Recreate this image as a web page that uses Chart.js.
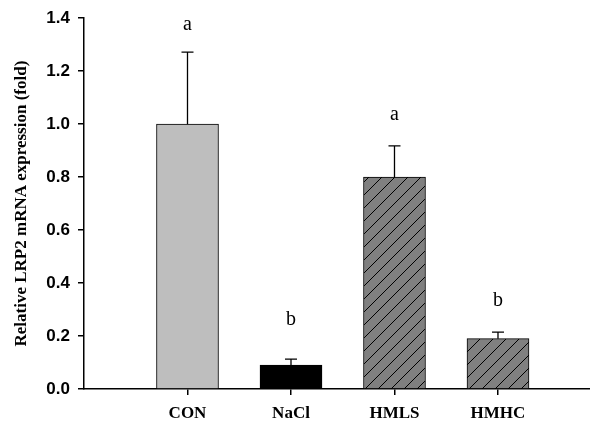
<!DOCTYPE html>
<html>
<head>
<meta charset="utf-8">
<script src="https://cdn.jsdelivr.net/npm/chart.js@4"></script>
<style>
  html, body { margin: 0; padding: 0; background: #fff; overflow: hidden; }
  #wrap { width: 590px; height: 423px; }
  canvas { display: block; }
</style>
</head>
<body>
<div id="wrap"><canvas id="lrp2Chart" width="590" height="423"></canvas></div>
<script>
const groups = ['CON', 'NaCl', 'HMLS', 'HMHC'];
const expression = [1.0, 0.09, 0.8, 0.19]; // mean fold change
const errors = [0.272, 0.023, 0.118, 0.025]; // SD, upper whisker only
const letters = ['a', 'b', 'a', 'b'];
const letterLevels = [1.377, 0.263, 1.035, 0.335]; // where the significance letters sit (y units)

// diagonal hatch used by the HM groups
function hatch() {
    const size = 13;
    const c = document.createElement('canvas');
    c.width = size; c.height = size;
    const g = c.getContext('2d');
    g.fillStyle = '#808080';
    g.fillRect(0, 0, size, size);
    g.strokeStyle = '#000';
    g.lineWidth = 1;
    g.beginPath();
    g.moveTo(-1, size + 1); g.lineTo(size + 1, -1);
    g.moveTo(-2, 2); g.lineTo(2, -2);
    g.moveTo(size - 2, size + 2); g.lineTo(size + 2, size - 2);
    g.stroke();
    return g.createPattern(c, 'repeat');
}

const errorBars = {
    id: 'errorBars',
    afterDatasetsDraw(chart) {
        const ctx = chart.ctx;
        const meta = chart.getDatasetMeta(0);
        const y = chart.scales.y;
        ctx.save();
        ctx.strokeStyle = '#000';
        ctx.lineWidth = 1.3;
        meta.data.forEach((bar, i) => {
            const top = y.getPixelForValue(expression[i] + errors[i]);
            ctx.beginPath();
            ctx.moveTo(bar.x, bar.y);
            ctx.lineTo(bar.x, top);
            ctx.moveTo(bar.x - 6, top);
            ctx.lineTo(bar.x + 6, top);
            ctx.stroke();
        });
        // significance letters
        ctx.fillStyle = '#000';
        ctx.font = '20px "Liberation Serif", "Times New Roman", serif';
        ctx.textAlign = 'center';
        ctx.textBaseline = 'middle';
        meta.data.forEach((bar, i) => {
            ctx.fillText(letters[i], bar.x, y.getPixelForValue(letterLevels[i]));
        });
        ctx.restore();
    }
};

const ctx = document.getElementById('lrp2Chart').getContext('2d');
const pattern = hatch();

new Chart(ctx, {
    type: 'bar',
    data: {
        datasets: [{
            data: groups.map((g, i) => ({ x: i + 1, y: expression[i] })),
            backgroundColor: ['#bebebe', '#000000', pattern, pattern],
            borderColor: '#000',
            borderWidth: 1,
            barThickness: 62
        }]
    },
    options: {
        responsive: false,
        animation: false,
        layout: { padding: { top: 17, right: 0, left: 0, bottom: 0 } },
        plugins: { legend: { display: false }, tooltip: { enabled: false } },
        scales: {
            x: {
                type: 'linear',
                offset: false,
                min: 0,
                max: 4.889,
                afterFit: s => { s.height = 34; },
                border: { color: '#000', width: 1.5 },
                grid: {
                    drawOnChartArea: false,
                    offset: false,
                    tickLength: 6,
                    lineWidth: 1.5,
                    // only the four groups get a tick mark
                    color: c => (c.tick && groups[c.tick.value - 1]) ? '#000' : 'rgba(0,0,0,0)'
                },
                ticks: {
                    stepSize: 1,
                    includeBounds: false,
                    autoSkip: false,
                    maxRotation: 0,
                    padding: 8,
                    color: '#000',
                    font: { family: '"Liberation Serif", "Times New Roman", serif', size: 17, weight: 'bold' },
                    callback: v => groups[v - 1] || ''
                }
            },
            y: {
                min: 0,
                max: 1.4,
                afterFit: s => { s.width = 84; },
                border: { color: '#000', width: 1.5 },
                grid: { drawOnChartArea: false, color: '#000', tickLength: 6, lineWidth: 1.5 },
                ticks: {
                    stepSize: 0.2,
                    padding: 8,
                    color: '#000',
                    font: { family: '"Liberation Sans", Arial, sans-serif', size: 17, weight: 'bold' },
                    callback: v => v.toFixed(1)
                },
                title: {
                    display: true,
                    text: 'Relative LRP2 mRNA expression (fold)',
                    color: '#000',
                    padding: { top: 11, bottom: 0 },
                    font: { family: '"Liberation Serif", "Times New Roman", serif', size: 17, weight: 'bold' }
                }
            }
        }
    },
    plugins: [errorBars]
});
</script>
</body>
</html>
